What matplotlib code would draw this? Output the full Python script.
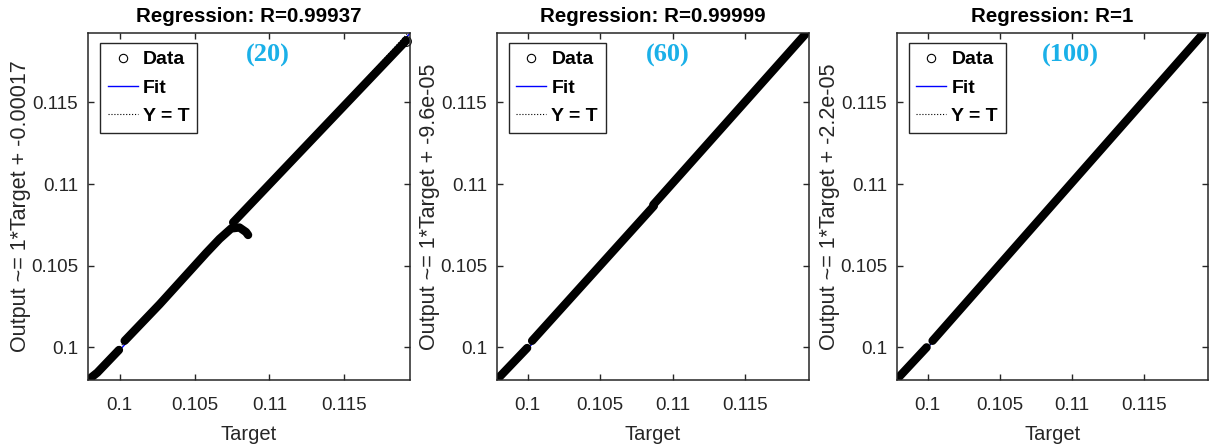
#!/usr/bin/env python3
# -*- coding: utf-8 -*-

import numpy as np
import matplotlib
matplotlib.use("Agg")
import matplotlib.pyplot as plt
from matplotlib.lines import Line2D

plt.rcParams["font.family"] = ["Liberation Sans", "DejaVu Sans"]

# ---- data ----
TITLES = ["Regression: R=0.99937", "Regression: R=0.99999", "Regression: R=1"]
TAGS = ["(20)", "(60)", "(100)"]
FIT_SLOPE = [1.0, 1.0, 1.0]
FIT_OFFSET = [-0.00017, -9.6e-05, -2.2e-05]
YLABELS = ["Output ~= 1*Target + -0.00017",
           "Output ~= 1*Target + -9.6e-05",
           "Output ~= 1*Target + -2.2e-05"]

# each panel: list of (target, output) segments
P1_A_T = [0.09805, 0.09850, 0.09995]
P1_A_Y = [0.09812, 0.09845, 0.09984]
P1_B_T = [0.10033, 0.10267, 0.10578, 0.10667, 0.10745, 0.10800, 0.10844, 0.10858]
P1_B_Y = [0.10040, 0.10264, 0.10578, 0.10664, 0.10728, 0.10734, 0.10706, 0.10688]
P1_C_T = [0.10758, 0.11913]
P1_C_Y = [0.10765, 0.11877]

P2_A_T = [0.09799, 0.09996]
P2_A_Y = [0.09813, 0.09996]
P2_B_T = [0.10030, 0.10870]
P2_B_Y = [0.10040, 0.10866]
P2_C_T = [0.10866, 0.11912]
P2_C_Y = [0.10873, 0.11915]

P3_A_T = [0.09793, 0.09993]
P3_A_Y = [0.09810, 0.10000]
P3_B_T = [0.10034, 0.11900]
P3_B_Y = [0.10040, 0.11915]

SEGMENTS = [
    [(P1_A_T, P1_A_Y), (P1_B_T, P1_B_Y), (P1_C_T, P1_C_Y)],
    [(P2_A_T, P2_A_Y), (P2_B_T, P2_B_Y), (P2_C_T, P2_C_Y)],
    [(P3_A_T, P3_A_Y), (P3_B_T, P3_B_Y)],
]

TICKS = [0.1, 0.105, 0.11, 0.115]
TICK_LABELS = ["0.1", "0.105", "0.11", "0.115"]
XLIM = (0.09788, 0.11940)
YLIM = (0.09800, 0.11925)

AX_RECTS = [
    (88 / 1212, 67 / 447, 322 / 1212, 347 / 447),
    (497 / 1212, 67 / 447, 312 / 1212, 347 / 447),
    (897 / 1212, 67 / 447, 311 / 1212, 347 / 447),
]
TAG_X = [0.559, 0.548, 0.559]

AX_COLOR = "#262626"
TAG_COLOR = "#1AB0E8"


def main():
    fig = plt.figure(figsize=(12.12, 4.47), dpi=100)
    for i, rect in enumerate(AX_RECTS):
        ax = fig.add_axes(rect)
        lims = np.array(XLIM)
        # fit + identity under the data
        ax.plot(lims, FIT_SLOPE[i] * lims + FIT_OFFSET[i], color="#0000FF", lw=1.0)
        ax.plot(lims, lims, color="k", ls=":", lw=0.8)
        for t, y in SEGMENTS[i]:
            ax.plot(t, y, color="k", lw=6, solid_capstyle="round",
                    solid_joinstyle="round")
        if i == 0:
            ax.plot(P1_C_T[-1:], P1_C_Y[-1:], "o", mfc="none", mec="k",
                    ms=7, mew=0.8, clip_on=False)

        ax.set_xlim(XLIM)
        ax.set_ylim(YLIM)
        ax.set_xticks(TICKS)
        ax.set_xticklabels(TICK_LABELS)
        ax.set_yticks(TICKS)
        ax.set_yticklabels(TICK_LABELS)
        ax.tick_params(direction="in", length=4, width=1, top=True, right=True,
                       labelsize=13.5, colors=AX_COLOR)
        ax.tick_params(axis="x", pad=12)
        ax.tick_params(axis="y", pad=7)
        for sp in ax.spines.values():
            sp.set_color(AX_COLOR)
            sp.set_linewidth(1.1)

        ax.set_title(TITLES[i], fontsize=14.8, fontweight="bold", pad=8)
        ax.set_xlabel("Target", fontsize=14.5, color=AX_COLOR, labelpad=8)
        ax.set_ylabel(YLABELS[i], fontsize=15.5, color=AX_COLOR, labelpad=0)

        ax.text(TAG_X[i], 0.935, TAGS[i], transform=ax.transAxes, ha="center",
                va="center", fontsize=19, fontweight="bold", color=TAG_COLOR,
                family=["Liberation Serif", "DejaVu Serif"])

        handles = [
            Line2D([], [], ls="none", marker="o", mfc="none", mec="k", ms=6, mew=0.8),
            Line2D([], [], color="#0000FF", lw=1.0),
            Line2D([], [], color="k", ls=":", lw=0.8),
        ]
        leg = ax.legend(handles, ["Data", "Fit", "Y = T"], loc="upper left",
                        bbox_to_anchor=(0.037, 0.971), borderaxespad=0,
                        frameon=True, fancybox=False, framealpha=1,
                        edgecolor=AX_COLOR, handlelength=1.55, handletextpad=0.25,
                        labelspacing=0.55, borderpad=0.4,
                        prop={"weight": "bold", "size": 14})
        leg.get_frame().set_linewidth(1.0)

    fig.savefig("out.png", dpi=100)
    plt.close(fig)


if __name__ == "__main__":
    main()
